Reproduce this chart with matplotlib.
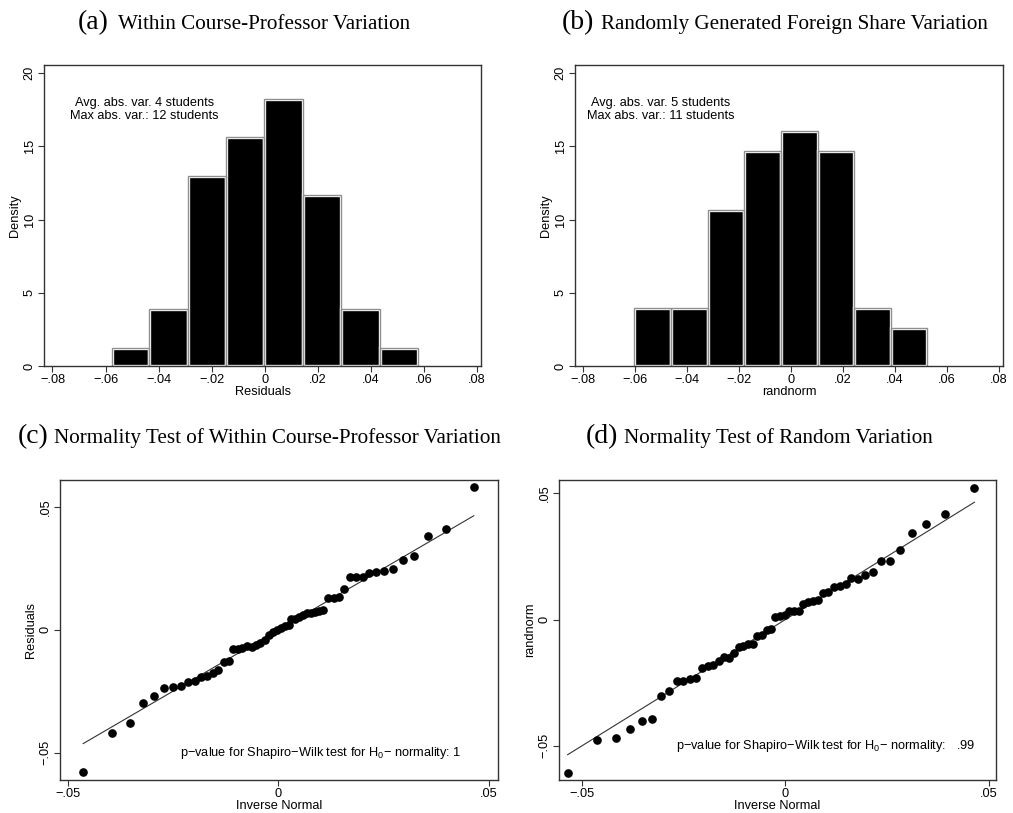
import matplotlib.pyplot as plt
import numpy as np

plt.rcParams['font.family'] = ['Liberation Sans', 'DejaVu Sans']
plt.rcParams['mathtext.default'] = 'regular'

# histogram (a): bin edges and densities of residuals
resid_edges = [-0.0576, -0.0435, -0.0291, -0.0147, -0.0001, 0.0144, 0.0289, 0.0434, 0.0578]
resid_density = [1.21, 3.87, 12.96, 15.63, 18.22, 11.69, 3.87, 1.21]

# histogram (b): bin edges and densities of randnorm
rand_edges = [-0.0601, -0.0462, -0.0320, -0.0180, -0.0039, 0.0103, 0.0243, 0.0385, 0.0524]
rand_density = [3.99, 3.99, 10.64, 14.67, 16.04, 14.67, 3.99, 2.60]

# qnorm (c): inverse normal vs residuals
qc_x = [-0.04628, -0.03956, -0.03528, -0.03204, -0.02943, -0.02706, -0.0250, -0.02318,
        -0.02144, -0.01978, -0.01828, -0.01693, -0.01559, -0.01424, -0.01297, -0.01179,
        -0.01068, -0.00957, -0.00854, -0.00744, -0.00633, -0.0053, -0.00435, -0.00316,
        -0.00214, -0.00119, -0.00024, 0.00071, 0.00166, 0.00245, 0.00309, 0.00403,
        0.00498, 0.00593, 0.0068, 0.00767, 0.00862, 0.00957, 0.0106, 0.01187, 0.01313,
        0.0144, 0.01566, 0.01693, 0.01851, 0.02002, 0.02152, 0.02326, 0.02516, 0.02714,
        0.02951, 0.0322, 0.03544, 0.03972, 0.04636]
qc_y = [-0.05786, -0.0420, -0.03808, -0.02995, -0.02696, -0.02385, -0.02331, -0.02276,
        -0.02127, -0.02073, -0.01911, -0.01883, -0.01775, -0.01653, -0.01314, -0.01287,
        -0.00786, -0.00786, -0.00759, -0.00678, -0.00691, -0.00637, -0.00556, -0.00434,
        -0.00203, -0.00095, 0.0, 0.00054, 0.00136, 0.00203, 0.00434, 0.00447,
        0.00515, 0.00583, 0.00664, 0.00678, 0.00718, 0.00759, 0.00813, 0.01301, 0.01301,
        0.01328, 0.01667, 0.02154, 0.02154, 0.02154, 0.0229, 0.02344, 0.02385, 0.0248,
        0.02832, 0.03008, 0.03821, 0.04106, 0.0580]

# qnorm (d): inverse normal vs randnorm
qd_x = [-0.05357, -0.04635, -0.04175, -0.03823, -0.03536, -0.0329, -0.0306, -0.02863,
        -0.02674, -0.0251, -0.02346, -0.0219, -0.02043, -0.01911, -0.01772, -0.01641,
        -0.01509, -0.01386, -0.01263, -0.01148, -0.01034, -0.00919, -0.00804, -0.00689,
        -0.00574, -0.00459, -0.00353, -0.00246, -0.00123, -0.00016, 0.0009, 0.00205,
        0.00328, 0.00443, 0.00566, 0.00681, 0.00796, 0.00919, 0.01058, 0.01198, 0.01345,
        0.01493, 0.01624, 0.01788, 0.01969, 0.02157, 0.02354, 0.02576, 0.0283, 0.03117,
        0.0347, 0.03929, 0.04651]
qd_y = [-0.06063, -0.04769, -0.0469, -0.0432, -0.04029, -0.03923, -0.03012, -0.02814,
        -0.02444, -0.02444, -0.02351, -0.02325, -0.01915, -0.01849, -0.01783, -0.01651,
        -0.01493, -0.01532, -0.01308, -0.01096, -0.0103, -0.00978, -0.00951, -0.0066,
        -0.00594, -0.00423, -0.00357, 0.00119, 0.00145, 0.00198, 0.0033, 0.00343,
        0.00357, 0.00608, 0.00713, 0.00753, 0.00779, 0.0107, 0.0111, 0.01295, 0.01334,
        0.014, 0.01638, 0.01625, 0.0177, 0.01876, 0.02325, 0.02325, 0.02748, 0.03435,
        0.03778, 0.04201, 0.05231]

hist_ticks = [-0.08, -0.06, -0.04, -0.02, 0, 0.02, 0.04, 0.06, 0.08]
hist_ticklabels = ['\u2212.08', '\u2212.06', '\u2212.04', '\u2212.02', '0', '.02', '.04', '.06', '.08']
q_ticks = [-0.05, 0, 0.05]
q_ticklabels = ['\u2212.05', '0', '.05']

FS = 9.2

fig = plt.figure(figsize=(10.13, 8.13), dpi=100)
W, H = 1013.0, 813.0


def px_axes(x0, y0, x1, y1):
    return fig.add_axes([x0 / W, 1 - y1 / H, (x1 - x0) / W, (y1 - y0) / H])


def style(ax):
    for s in ax.spines.values():
        s.set_color('#333333')
        s.set_linewidth(1.0)
    ax.tick_params(direction='out', length=4, width=0.8, color='#333333', labelsize=FS, pad=2)
    for lab in ax.get_yticklabels():
        lab.set_rotation(90)
        lab.set_va('center')


def hist_panel(ax, edges, dens, xlabel, note):
    edges = np.array(edges)
    widths = np.diff(edges)
    # white separators, then grey outline on top of black bars
    ax.bar(edges[:-1], dens, width=widths, align='edge', color='black',
           edgecolor='white', linewidth=2.4)
    ax.bar(edges[:-1], dens, width=widths, align='edge', fill=False,
           edgecolor='#8f8f8f', linewidth=1.0)
    ax.set_xlim(-0.0832, 0.0815)
    ax.set_ylim(0, 20.55)
    ax.set_xticks(hist_ticks)
    ax.set_xticklabels(hist_ticklabels)
    ax.set_yticks([0, 5, 10, 15, 20])
    ax.set_ylabel('Density', fontsize=FS, labelpad=2)
    ax.set_xlabel(xlabel, fontsize=FS, labelpad=0)
    style(ax)
    ax.text(note[0], note[1], note[2], fontsize=FS, ha='center', va='center',
            linespacing=1.1)


def q_panel(ax, x, y, xlim, ylim, ylabel, note):
    ax.plot([min(x), max(x)], [min(x), max(x)], color='#333333', linewidth=0.8)
    ax.plot(x, y, 'o', color='black', markersize=5.2)
    ax.set_xlim(*xlim)
    ax.set_ylim(*ylim)
    ax.set_xticks(q_ticks)
    ax.set_xticklabels(q_ticklabels)
    ax.set_yticks(q_ticks)
    ax.set_yticklabels(q_ticklabels)
    ax.set_ylabel(ylabel, fontsize=FS, labelpad=2)
    ax.set_xlabel('Inverse Normal', fontsize=FS, labelpad=0)
    style(ax)
    ax.text(0.0100, -0.0503, note, fontsize=FS, ha='center', va='center')


def title(letter, rest, xl, xr, yb):
    fig.text(xl / W, 1 - yb / H, letter, family='Liberation Serif', fontsize=20,
             ha='right', va='baseline')
    fig.text(xr / W, 1 - yb / H, rest, family='Liberation Serif', fontsize=15.2,
             ha='left', va='baseline')


ax_a = px_axes(44, 65, 481, 366)
hist_panel(ax_a, resid_edges, resid_density, 'Residuals',
           (-0.0453, 17.5, 'Avg. abs. var. 4 students\nMax abs. var.: 12 students'))
ax_b = px_axes(575, 65, 1003, 366)
hist_panel(ax_b, rand_edges, rand_density, 'randnorm',
           (-0.0500, 17.5, 'Avg. abs. var. 5 students\nMax abs. var.: 11 students'))
ax_b.set_xlim(-0.0829, 0.0815)

ax_c = px_axes(60, 480, 498, 780)
q_panel(ax_c, qc_x, qc_y, (-0.0518, 0.0521), (-0.0611, 0.0609), 'Residuals',
        'p\u2212value for Shapiro\u2212Wilk test for H$_0$\u2212 normality: 1')
ax_d = px_axes(559, 480, 996, 780)
q_panel(ax_d, qd_x, qd_y, (-0.0557, 0.0518), (-0.0636, 0.0553), 'randnorm',
        'p\u2212value for Shapiro\u2212Wilk test for H$_0$\u2212 normality:   .99')

title('(a)', 'Within Course-Professor Variation', 109, 118, 29)
title('(b)', 'Randomly Generated Foreign Share Variation', 594, 601, 29)
title('(c)', 'Normality Test of Within Course-Professor Variation', 48, 54, 443)
title('(d)', 'Normality Test of Random Variation', 618, 624, 443)

fig.savefig('out.png', dpi=100)
